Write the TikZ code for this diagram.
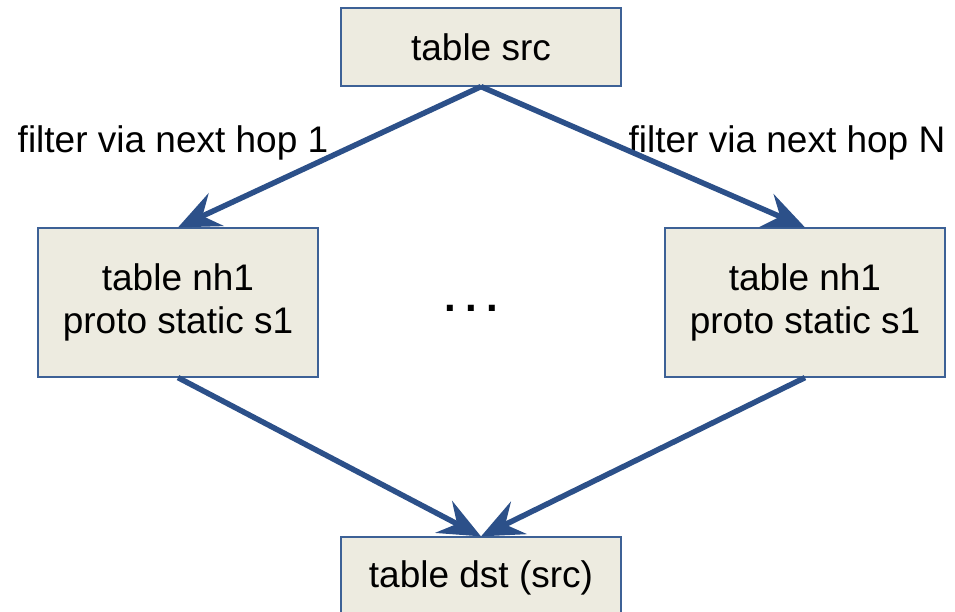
\documentclass[tikz,border=0pt]{standalone}
\usepackage{fontspec}
\setmainfont{Liberation Sans}
\usetikzlibrary{arrows.meta}
\definecolor{boxfill}{HTML}{EDEBE0}
\definecolor{boxline}{HTML}{3D6196}
\definecolor{flow}{HTML}{2C5089}
\tikzset{
  x=1pt, y=-1pt,
  tablebox/.style={draw=boxline, line width=1.2pt, fill=boxfill,
    minimum width=280pt, inner sep=0pt, align=center,
    font=\fontsize{37}{43}\selectfont},
  flowarrow/.style={draw=flow, line width=5.5pt,
    -{Stealth[length=42pt, width=36pt, inset=15pt]}},
  caption/.style={font=\fontsize{37}{40}\selectfont, inner sep=0pt}
}
\begin{document}
\begin{tikzpicture}
  \useasboundingbox (0,0) rectangle (955,612);
  \clip (0,0) rectangle (955,612);

  \node[tablebox, minimum height=78pt] (src) at (481,47) {table src};
  \node[tablebox, minimum height=149pt] (nhL) at (178,302.5) {table nh1\\proto static s1};
  \node[tablebox, minimum height=149pt] (nhR) at (805,302.5) {table nh1\\proto static s1};
  \node[tablebox, minimum height=82pt] (dst) at (481,578) {table dst (src)};

  \node[font=\fontsize{42}{42}\selectfont\bfseries, inner sep=0pt, anchor=base]
    (dots) at (471,311) {.\hspace{9.3pt}.\hspace{9.3pt}.};

  \node[caption] (capL) at (173,143) {filter via next hop 1};
  \node[caption] (capR) at (787,143) {filter via next hop N};

  \draw[flowarrow] (src.south) -- (nhL.north);
  \draw[flowarrow] (src.south) -- (nhR.north);
  \draw[flowarrow] (nhL.south) -- (dst.north);
  \draw[flowarrow] (nhR.south) -- (dst.north);
\end{tikzpicture}
\end{document}
